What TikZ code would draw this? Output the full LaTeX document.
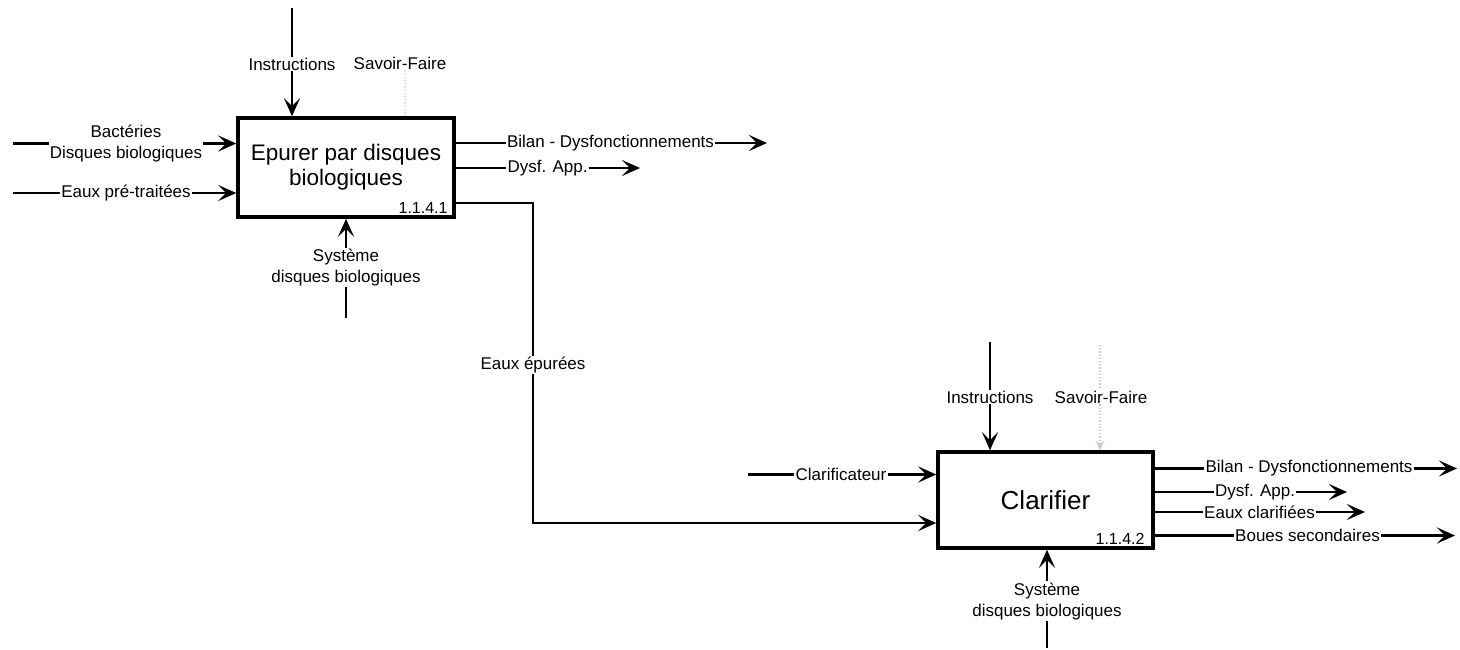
\documentclass[tikz,border=0pt]{standalone}
\usepackage{fontspec}
\setmainfont{Liberation Sans}
\usetikzlibrary{arrows.meta}
\begin{document}
\begin{tikzpicture}[x=1pt,y=-1pt,
  conn/.style={line width=2.6pt},
  arr/.style={line width=2.6pt,-{Stealth[length=18pt,width=16pt,inset=8pt]}},
  lbl/.style={font=\fontsize{17}{21}\selectfont, inner sep=1pt, align=center},
  func/.style={draw, line width=3.5pt, align=center, inner sep=0pt},
  num/.style={font=\fontsize{16}{18}\selectfont, anchor=south east, inner sep=0pt},
  faint/.style={draw=black!22, dotted, line width=1.2pt},
  fainttip/.style={faint,-{Stealth[length=10pt,width=9pt,inset=4pt,fill=black!15]}}]
\useasboundingbox (0,0) rectangle (1460,649);

% ---------- Box 1 ----------
\node[func, minimum width=216pt, minimum height=99pt,
      font=\fontsize{22.5}{25}\selectfont] (b1) at (346,167.5) {Epurer par disques\\biologiques};
\node[num] (n1) at ([xshift=-8pt,yshift=5pt]b1.south east) {1.1.4.1};

% controls
\coordinate (i1top) at (292,8);
\node[lbl] (i1) at (292,64) {Instructions};
\draw[conn] (i1top) -- (i1.north);
\draw[arr] (i1.south) -- (b1.north -| i1);

\node[lbl] (s1) at (400,63) {Savoir-Faire};
\draw[faint, draw=black!12] (s1.south -| 405,0) -- (b1.north -| 405,0);

% inputs
\coordinate (bs) at (13,143.5);
\node[lbl] (bact) at (126,143.5) {Bactéries\\Disques biologiques};
\draw[conn] (bs) -- (bact.west);
\draw[arr] (bact.east) -- (b1.west |- bact.east);

\coordinate (es) at (13,193);
\node[lbl] (ept) at (126,193) {Eaux pré-traitées};
\draw[conn] (es) -- (ept.west);
\draw[arr] (ept.east) -- (b1.west |- ept.east);

% mechanism
\coordinate (sys1b) at (346,318);
\node[lbl] (sys1) at (346,267.5) {Système\\disques biologiques};
\draw[conn] (sys1b) -- (sys1.south);
\draw[arr] (sys1.north) -- (b1.south -| sys1);

% outputs
\node[lbl] (bil1) at (610.5,143) {Bilan - Dysfonctionnements};
\coordinate (bil1e) at (767,143);
\draw[conn] (b1.east |- bil1) -- (bil1.west);
\draw[arr] (bil1.east) -- (bil1e);

\node[lbl] (dys1) at (547.5,168) {Dysf. App.};
\coordinate (dys1e) at (640,168);
\draw[conn] (b1.east |- dys1) -- (dys1.west);
\draw[arr] (dys1.east) -- (dys1e);

% ---------- Box 2 ----------
\node[func, minimum width=215pt, minimum height=96pt,
      font=\fontsize{26}{28}\selectfont] (b2) at (1045.5,500) {Clarifier};
\node[num] (n2) at ([xshift=-10pt,yshift=5pt]b2.south east) {1.1.4.2};

% link Eaux epurees
\coordinate (ee1) at (533,203);
\node[lbl] (ee) at (533,365) {Eaux épurées};
\draw[conn] (b1.east |- ee1) -- (ee1) -- (ee.north);
\draw[arr] (ee.south) |- ([yshift=-23pt]b2.west);

% controls
\coordinate (i2top) at (990,342);
\node[lbl] (i2) at (990,397) {Instructions};
\draw[conn] (i2top) -- (i2.north);
\draw[arr] (i2.south) -- (b2.north -| i2);

\coordinate (s2top) at (1100,345);
\node[lbl] (s2) at (1101,397) {Savoir-Faire};
\draw[faint] (s2top) -- (s2.north -| s2top);
\draw[fainttip] (s2.south -| s2top) -- (b2.north -| s2top);

% input
\coordinate (cs) at (748,474.5);
\node[lbl] (clar) at (841,474.5) {Clarificateur};
\draw[conn] (cs) -- (clar.west);
\draw[arr] (clar.east) -- (b2.west |- clar.east);

% mechanism
\coordinate (sys2b) at (1047,648);
\node[lbl] (sys2) at (1047,601) {Système\\disques biologiques};
\draw[conn] (sys2b) -- (sys2.south);
\draw[arr] (sys2.north) -- (b2.south -| sys2);

% outputs
\node[lbl] (bil2) at (1309,468.5) {Bilan - Dysfonctionnements};
\coordinate (bil2e) at (1457,468.5);
\draw[conn] (b2.east |- bil2) -- (bil2.west);
\draw[arr] (bil2.east) -- (bil2e);

\node[lbl] (dys2) at (1255,492) {Dysf. App.};
\coordinate (dys2e) at (1347,492);
\draw[conn] (b2.east |- dys2) -- (dys2.west);
\draw[arr] (dys2.east) -- (dys2e);

\node[lbl] (ecl) at (1259.5,512) {Eaux clarifiées};
\coordinate (ecle) at (1365,512);
\draw[conn] (b2.east |- ecl) -- (ecl.west);
\draw[arr] (ecl.east) -- (ecle);

\node[lbl] (bou) at (1307.5,535.5) {Boues secondaires};
\coordinate (boue) at (1455,535.5);
\draw[conn] (b2.east |- bou) -- (bou.west);
\draw[arr] (bou.east) -- (boue);
\end{tikzpicture}
\end{document}
